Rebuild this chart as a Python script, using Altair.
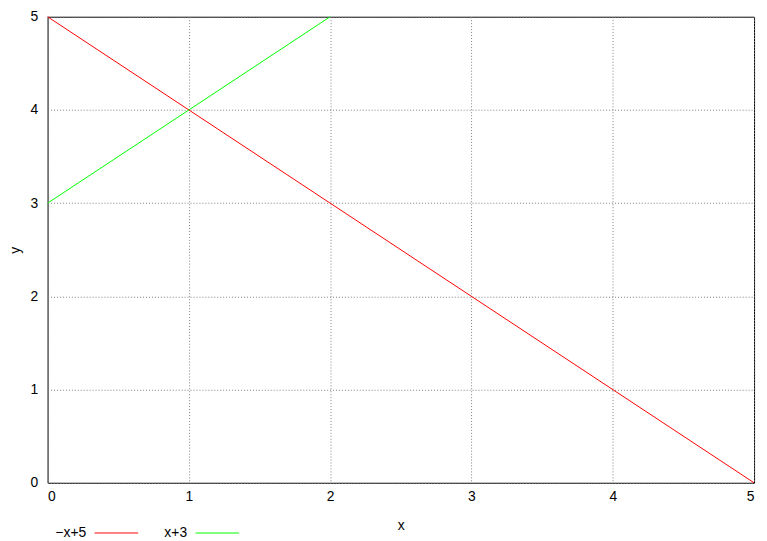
import altair as alt
import pandas as pd

series_names = ["−x+5", "x+3"]
line1_x = [0, 5]
line1_y = [5, 0]
line2_x = [0, 2]
line2_y = [3, 5]
colors = ["#ff0000", "#00ff00"]
ticks = [0, 1, 2, 3, 4, 5]

df = pd.DataFrame(
    {
        "x": line1_x + line2_x,
        "y": line1_y + line2_y,
        "s": [series_names[0]] * len(line1_x) + [series_names[1]] * len(line2_x),
    }
)

font = "Liberation Sans"

chart = (
    alt.Chart(df)
    .mark_line(strokeWidth=1)
    .encode(
        x=alt.X(
            "x:Q",
            scale=alt.Scale(domain=[0, 5], nice=False, zero=False),
            axis=alt.Axis(
                values=ticks,
                title="x",
                ticks=False,
                labelPadding=7,
                titlePadding=15,
                titleFontWeight="normal",
                titleFontSize=14,
                labelFontSize=14,
            ),
        ),
        y=alt.Y(
            "y:Q",
            scale=alt.Scale(domain=[0, 5], nice=False, zero=False),
            axis=alt.Axis(
                values=ticks,
                title="y",
                ticks=False,
                labelPadding=10,
                titlePadding=8,
                titleFontWeight="normal",
                titleFontSize=14,
                labelFontSize=14,
            ),
        ),
        color=alt.Color(
            "s:N",
            scale=alt.Scale(domain=series_names, range=colors),
            legend=alt.Legend(
                title=None,
                orient="none",
                direction="horizontal",
                legendX=47,
                legendY=499,
                symbolType="stroke",
                symbolSize=1936,
                symbolStrokeWidth=1,
                labelAlign="right",
                labelOffset={"expr": "-53"},
                labelFontSize=14,
                labelFont=font,
                columnPadding=24,
            ),
        ),
        detail="s:N",
    )
    .properties(
        width=714,
        height=471,
        padding={"left": 40, "top": 6, "right": 5, "bottom": 56},
        autosize=alt.AutoSizeParams(type="none"),
    )
    .configure_view(stroke="black", strokeWidth=1)
    .configure_axis(
        grid=True,
        gridColor="#808080",
        gridDash=[1, 2],
        gridOpacity=1,
        gridWidth=1,
        domain=False,
        labelFont=font,
        titleFont=font,
        labelColor="black",
        titleColor="black",
    )
)

chart.save("out.html", embed_options={"renderer": "svg", "actions": False})
